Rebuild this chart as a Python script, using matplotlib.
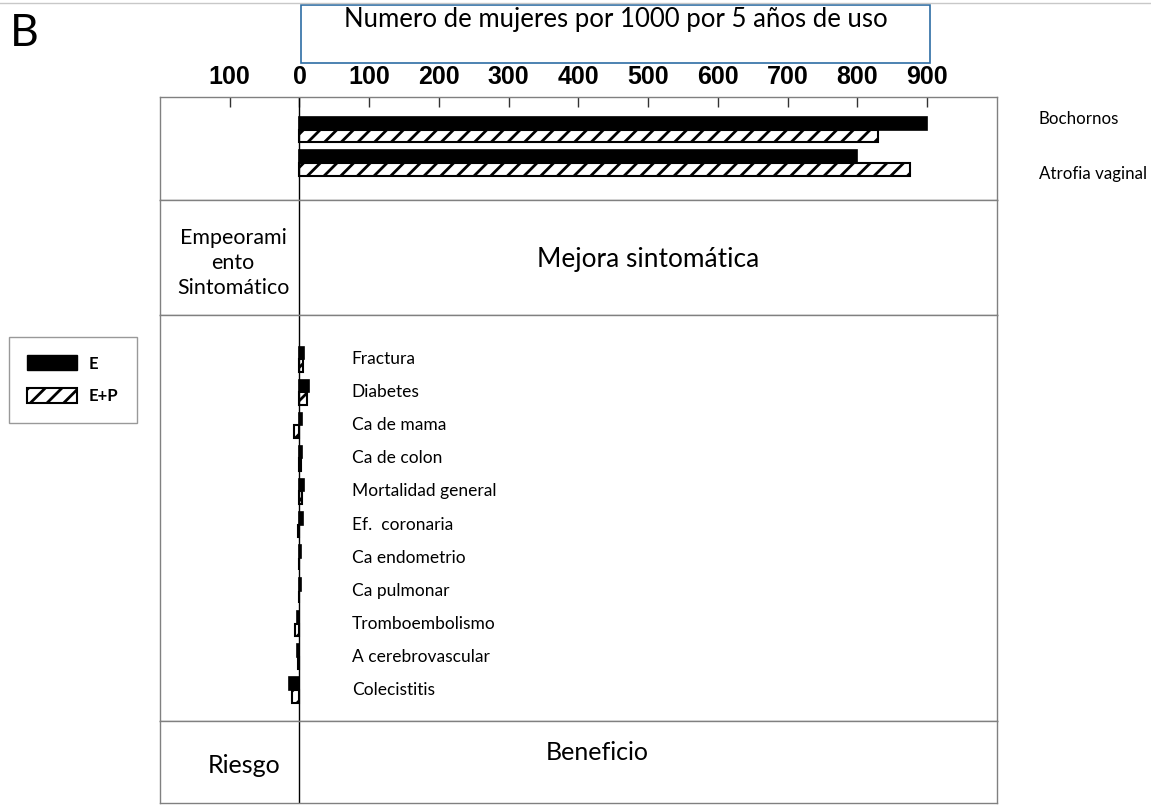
import matplotlib.pyplot as plt
from matplotlib.patches import Patch, Rectangle
from matplotlib.lines import Line2D

plt.rcParams['font.family'] = ['Lato', 'DejaVu Sans']
plt.rcParams['hatch.linewidth'] = 2

# Sintomas (panel superior), numero de mujeres por 1000 por 5 años
sintomas = ['Bochornos', 'Atrofia vaginal']
sintomas_e = [900, 800]
sintomas_ep = [830, 875]

# Eventos (panel inferior): positivo = beneficio, negativo = riesgo
eventos = ['Fractura', 'Diabetes', 'Ca de mama', 'Ca de colon',
           'Mortalidad general', 'Ef.  coronaria', 'Ca endometrio',
           'Ca pulmonar', 'Tromboembolismo', 'A cerebrovascular',
           'Colecistitis']
eventos_e = [7, 13, 4, 3, 7, 5, 2, 2, -3, -3, -15]
eventos_ep = [5, 11, -8, 2, 4, -2, -1, -1, -7, -2, -10]

ticks = [-100, 0, 100, 200, 300, 400, 500, 600, 700, 800, 900]
tick_labels = ['100', '0', '100', '200', '300', '400', '500', '600',
               '700', '800', '900']

fig = plt.figure(figsize=(11.51, 8.05), dpi=100)
left, width = 0.139, 0.727
ax_top = fig.add_axes([left, 0.7516, width, 0.128])
ax_mid = fig.add_axes([left, 0.6087, width, 0.1429])
ax_low = fig.add_axes([left, 0.1043, width, 0.5043])
ax_foot = fig.add_axes([left, 0.0025, width, 0.1019])

for ax in [ax_top, ax_mid, ax_low, ax_foot]:
    ax.set_xlim(-200, 1000)
    ax.set_xticks([])
    ax.set_yticks([])
    for s in ax.spines.values():
        s.set_color('#808080')
        s.set_linewidth(1)
    ax.axvline(0, color='black', lw=1)

h = 0.38

# panel superior
ax_top.set_ylim(2.12, -1.0)
pos = range(len(sintomas))
ax_top.barh([p - h / 2 for p in pos], sintomas_e, height=h,
            color='black', edgecolor='black', lw=1.2)
ax_top.barh([p + h / 2 for p in pos], sintomas_ep, height=h,
            color='white', edgecolor='black', hatch='//', lw=1.5)
# etiquetas a la derecha, un poco separadas del centro del grupo
for p, name in zip(pos, sintomas):
    ax_top.text(1060, p + (p - 0.5) * 0.65, name, ha='left', va='center',
                fontsize=12.2, clip_on=False)
ax_top.xaxis.tick_top()
ax_top.set_xticks(ticks, tick_labels)
ax_top.tick_params(axis='x', direction='in', length=7, width=1,
                   color='#333333', pad=6, labelsize=18)
for lbl in ax_top.get_xticklabels():
    lbl.set_fontweight('bold')
    lbl.set_family(['Liberation Sans', 'DejaVu Sans'])

# panel del medio
ax_mid.text(-95, 0.45, 'Empeorami\nento\nSintomático', ha='center',
            va='center', fontsize=15.4, linespacing=1.3,
            transform=ax_mid.get_xaxis_transform())
ax_mid.text(500, 0.48, 'Mejora sintomática', ha='center', va='center',
            fontsize=18.9, transform=ax_mid.get_xaxis_transform())

# panel inferior
ax_low.set_ylim(10.94, -1.33)
pos = range(len(eventos))
ax_low.barh([p - h / 2 for p in pos], eventos_e, height=h,
            color='black', edgecolor='black', lw=1.2)
ax_low.barh([p + h / 2 for p in pos], eventos_ep, height=h,
            color='white', edgecolor='black', hatch='//', lw=1.5)
for p, name in zip(pos, eventos):
    ax_low.text(75, p, name, ha='left', va='center', fontsize=12.5)

# pie
ax_foot.text(-80, 0.46, 'Riesgo', ha='center', va='center', fontsize=18,
             transform=ax_foot.get_xaxis_transform())
ax_foot.text(427, 0.61, 'Beneficio', ha='center', va='center', fontsize=18,
             transform=ax_foot.get_xaxis_transform())

# caja del titulo
fig.add_artist(Rectangle((301 / 1151, 1 - 63 / 805), 629 / 1151, 58 / 805,
                         transform=fig.transFigure, fill=False,
                         edgecolor='#2e6da4', lw=1.2))
fig.text(0.5348, 1 - 19 / 805, 'Numero de mujeres por 1000 por 5 años de uso',
         ha='center', va='center', fontsize=18.5)
fig.add_artist(Line2D([0, 1], [1 - 3 / 805, 1 - 3 / 805], color='#c8c8c8',
                      lw=1, transform=fig.transFigure))

fig.text(10 / 1151, 1 - 33 / 805, 'B', ha='left', va='center', fontsize=32)

# leyenda
handles = [Patch(facecolor='black', edgecolor='black'),
           Patch(facecolor='white', edgecolor='black', hatch='//', lw=1.5)]
leg = fig.legend(handles, ['E', 'E+P'], loc='upper left',
                 bbox_to_anchor=(9 / 1151, 1 - 337 / 805), borderaxespad=0,
                 prop={'weight': 'bold', 'size': 12},
                 handlelength=3.0, handleheight=1, handletextpad=0.7,
                 labelspacing=1.0, borderpad=1.1, fancybox=False,
                 edgecolor='#808080')
leg.get_frame().set_linewidth(1)

fig.savefig('out.png', dpi=100)
